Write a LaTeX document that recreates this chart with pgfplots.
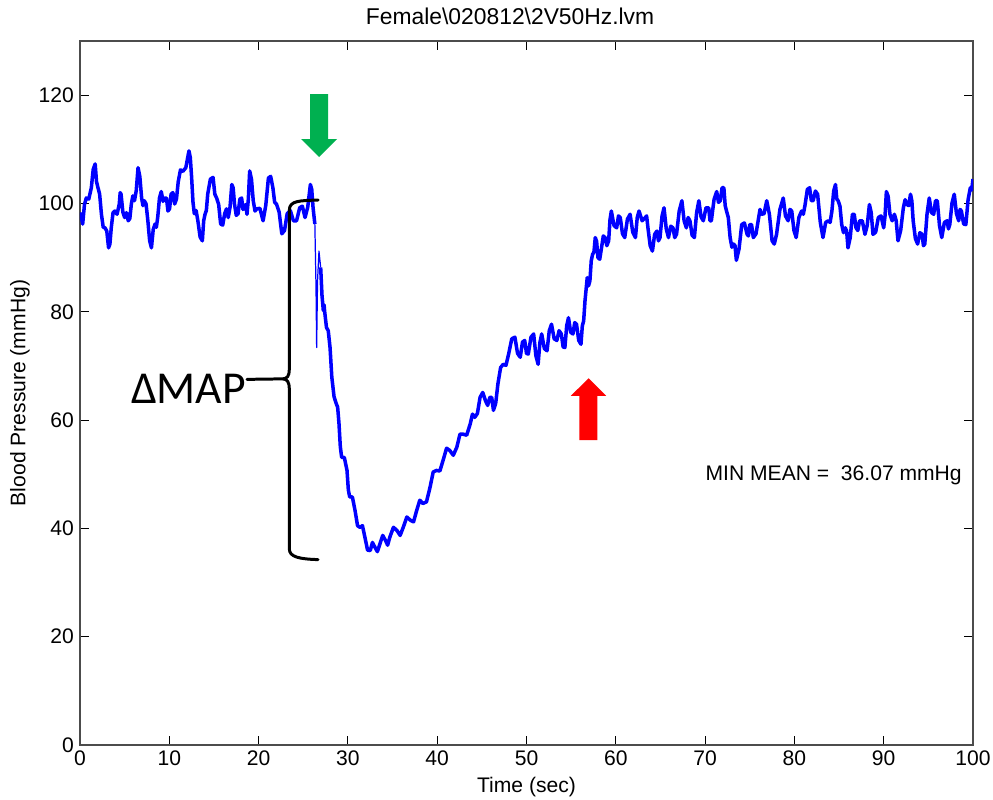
\documentclass[border=0pt]{standalone}
\usepackage{pgfplots}
\pgfplotsset{compat=1.18}
\usepackage{fontspec}
\setmainfont{Liberation Sans}
\newfontfamily\calibri{Carlito}
\definecolor{arrowgreen}{RGB}{0,176,80}
\definecolor{tracecol}{RGB}{0,0,255}

\begin{document}
\begin{tikzpicture}
\useasboundingbox (0,0) rectangle (19.86cm,16cm);
\begin{axis}[
  at={(1.6cm,1.1cm)}, anchor=south west,
  scale only axis, width=17.86cm, height=14.08cm,
  xmin=0, xmax=100, ymin=0, ymax=130,
  xtick={0,10,...,100}, ytick={0,20,...,120},
  tick align=inside, major tick length=0.18cm,
  tick style={black, line width=0.5pt},
  axis line style={line width=0.6pt, black!70},
  ticklabel style={font=\fontsize{12}{14}\selectfont},
  /pgf/number format/assume math mode=true,
  xlabel={Time (sec)}, ylabel={Blood Pressure (mmHg)},
  label style={font=\fontsize{12}{14}\selectfont},
  xlabel style={at={(axis description cs:0.5,-0.0597)}, anchor=center},
  ylabel style={at={(axis description cs:-0.0672,0.5)}, anchor=center},
]
% baseline before stimulation
\addplot[tracecol, line width=2pt, line join=round] coordinates {
(0.0,97) (0.1,98.1) (0.3,96.2) (0.5,99.8) (0.7,101) (0.98,100.8) (1.27,102.9) (1.48,106.3) (1.7,107.3) (1.85,104.0)
(2.0,103) (2.2,101.7) (2.4,98) (2.6,95.6) (2.8,95.5) (3.0,94.9) (3.2,91.8) (3.35,92.5) (3.5,95.5) (3.7,98.3)
(3.9,98.6) (4.15,98.0) (4.4,99.9) (4.5,102.0) (4.6,101.7) (4.8,98.4) (5.0,97.4) (5.2,98.3) (5.4,96.8) (5.58,97.2)
(5.75,99.9) (5.92,101.4) (6.1,100.5) (6.3,102.4) (6.5,106.6) (6.7,105.0) (6.9,101) (7.05,99.6) (7.2,100.5) (7.4,99.9)
(7.6,96.8) (7.8,93.1) (8.0,91.8) (8.2,95.2) (8.4,96.2) (8.55,95.6) (8.7,97.4) (8.9,101.0) (9.1,102.2) (9.3,100.4)
(9.5,101) (9.68,101.0) (9.85,98.6) (10.03,99.0) (10.2,101.7) (10.4,102.0) (10.6,99.9) (10.8,100.8) (11.0,104) (11.25,106.2)
(11.5,105.9) (11.85,106.6) (12.2,109.7) (12.35,108.5) (12.5,104.8) (12.65,100.3) (12.8,98.1) (13.0,98.7) (13.2,96.8) (13.45,93.8)
(13.7,93.1) (13.85,96.8) (14.0,98) (14.15,98.7) (14.3,101.7) (14.6,104.5) (14.9,104.8) (15.1,101.7) (15.3,101) (15.53,99.8)
(15.75,96.2) (15.98,96.0) (16.2,98.1) (16.4,99.0) (16.6,97.4) (16.8,99.3) (17.0,103.5) (17.15,102.9) (17.3,99.9) (17.5,97.8)
(17.7,98.1) (17.9,100.8) (18.1,101) (18.25,98.9) (18.4,99.2) (18.55,99.8) (18.7,98) (18.85,100.8) (19.0,106) (19.2,104.5)
(19.4,100.5) (19.6,98.6) (19.8,99) (20.15,99.1) (20.5,96.8) (20.8,99.6) (21.1,104.7) (21.35,105.0) (21.6,102.9) (21.8,100.2)
(22.0,99.9) (22.3,98.4) (22.6,94.4) (22.9,95.0) (23.2,98.1) (23.55,98.7) (23.9,96.8) (24.25,96.8) (24.6,99.2) (24.9,99.5)
(25.2,97.4) (25.5,99.3) (25.8,103.5) (25.95,102.6) (26.1,99.2) (26.3,96.2)
};
% stimulation artefact
\addplot[tracecol, line width=0.7pt, line join=round] coordinates {
(26.3,96.2) (26.43,84.5) (26.5,73.4) (26.6,85.7) (26.76,91.2) (26.95,88.2)
};
% fall, recovery and post-stimulation
\addplot[tracecol, line width=2pt, line join=round] coordinates {
(26.95,88.2) (27.1,83.0) (27.25,80.2) (27.33,81.3) (27.4,80.0) (27.6,77.1) (27.8,76.5) (28.0,73.4) (28.2,67.9) (28.45,64.3)
(28.7,63) (28.85,62.4) (29.0,59.4) (29.15,55.1) (29.3,53.1) (29.6,53.1) (29.9,50.7) (30.05,47.1) (30.2,45.8) (30.5,45.8)
(30.8,43.3) (31.08,40.5) (31.35,40.2) (31.63,40.5) (31.9,38.4) (32.2,36.0) (32.5,35.9) (32.75,37.4) (33.0,36.6) (33.3,35.7)
(33.6,37.2) (33.9,38.7) (34.2,37.8) (34.45,36.9) (34.7,38.4) (35.1,40.2) (35.5,39.6) (35.85,38.7) (36.2,40.2) (36.6,42.1)
(37.0,41.5) (37.35,41.2) (37.7,43.3) (38.05,45.2) (38.4,44.6) (38.8,44.9) (39.2,47.6) (39.55,50.4) (39.9,50.7) (40.3,50.6)
(40.7,52.8) (41.05,54.8) (41.4,54.4) (41.8,53.5) (42.2,55) (42.55,57.4) (42.9,57.4) (43.3,57.2) (43.7,59.3) (43.95,61.1)
(44.2,60.5) (44.5,61.2) (44.8,64.2) (45.1,65.1) (45.4,63.6) (45.65,62.7) (45.9,64.2) (46.1,64.2) (46.3,61.8) (46.55,63.1)
(46.8,66.7) (47.1,69.7) (47.4,70.3) (47.7,70.1) (48.0,72.2) (48.35,75.0) (48.7,75.3) (49.0,72.3) (49.3,71.6) (49.55,74.4)
(49.8,74.7) (50.0,72.3) (50.2,72.2) (50.5,75.3) (50.8,75.9) (51.05,71.9) (51.3,70.3) (51.5,74.3) (51.7,75.9) (52.0,73.2)
(52.3,72.8) (52.55,76.5) (52.8,77.7) (53.1,75.0) (53.4,74.7) (53.65,76.5) (53.9,75.9) (54.1,73.5) (54.3,73.4) (54.5,77.4)
(54.7,78.9) (54.95,76.2) (55.2,75.9) (55.4,78.0) (55.6,77.7) (55.85,74.7) (56.1,74.0) (56.25,77.4) (56.4,78.3) (56.55,82)
(56.8,86.3) (56.95,84.8) (57.1,85.7) (57.25,89.4) (57.4,90.6) (57.55,91.0) (57.7,93.7) (57.85,93.0) (58.0,90) (58.2,89.7)
(58.4,91.8) (58.6,94.0) (58.8,93.7) (59.0,92.2) (59.2,93.1) (59.35,97.0) (59.5,98.6) (59.8,95.9) (60.1,95.5) (60.3,97.7)
(60.5,97.4) (60.75,94.4) (61.0,93.7) (61.3,97.1) (61.6,98) (61.9,94.7) (62.2,93.7) (62.4,97.4) (62.6,98.6) (62.95,96.8)
(63.3,97.4) (63.45,97.7) (63.6,95.5) (63.85,92.2) (64.1,91.2) (64.35,94.3) (64.6,94.9) (64.78,93.1) (64.95,93.7) (65.18,97.7)
(65.4,99.2) (65.65,95.3) (65.9,93.7) (66.15,95.8) (66.4,95.5) (66.6,93.7) (66.8,94.3) (67.1,98.6) (67.4,100.5) (67.65,96.8)
(67.9,95.5) (68.1,97.4) (68.3,96.8) (68.55,94.1) (68.8,93.7) (69.05,98.3) (69.3,100.5) (69.55,97.5) (69.8,96.8) (70.1,99.2)
(70.4,99.2) (70.55,96.8) (70.7,96.8) (71.0,100.7) (71.3,102.2) (71.5,100.2) (71.7,100.5) (71.9,102.9) (72.1,102.9) (72.25,99.6)
(72.4,98.6) (72.6,97.4) (72.8,93.7) (73.0,91.9) (73.2,92.5) (73.35,92.2) (73.5,89.5) (73.8,91.6) (74.1,96.1) (74.4,96.4)
(74.7,94.3) (74.85,94.0) (75.0,96.1) (75.2,96.1) (75.4,93.7) (75.7,94.4) (76.0,97.4) (76.15,98.9) (76.3,98) (76.6,98.1)
(76.9,100.5) (77.2,98.0) (77.5,93.1) (77.75,92.5) (78.0,94.3) (78.38,98.9) (78.75,101) (79.0,97.7) (79.3,96.8) (79.5,98.9)
(79.7,98.6) (79.95,95.0) (80.2,93.7) (80.5,97.4) (80.8,98.6) (81.0,98.0) (81.2,99.8) (81.45,102.6) (81.7,102.9) (81.9,100.5)
(82.1,100.5) (82.35,102.3) (82.6,101.7) (82.9,96.5) (83.2,93.7) (83.5,96.5) (83.8,96.8) (84.0,96.5) (84.2,98.6) (84.4,102.3)
(84.6,103.5) (84.75,100.8) (84.9,100.5) (85.1,99.5) (85.3,96.1) (85.5,94.6) (85.7,95.5) (85.85,94.9) (86.0,91.8) (86.25,93.7)
(86.5,98) (86.7,98.0) (86.9,95.5) (87.1,95.0) (87.3,96.8) (87.6,96.8) (87.9,94.3) (88.15,95.9) (88.4,99.8) (88.6,98.3)
(88.8,94.3) (89.1,94.7) (89.4,97.4) (89.7,97.7) (90.0,95.5) (90.15,97.7) (90.3,102.2) (90.5,101.3) (90.7,98) (90.95,96.8)
(91.2,98) (91.4,96.8) (91.6,93.1) (91.9,95.0) (92.2,99.2) (92.4,100.7) (92.6,99.8) (92.8,99.6) (93.0,101.7) (93.15,100.5)
(93.3,96.8) (93.55,93.5) (93.8,92.5) (94.05,94.6) (94.3,94.3) (94.45,92.2) (94.6,92.5) (94.85,98.0) (95.1,101) (95.35,98.3)
(95.6,98) (95.8,100.5) (96.0,100.5) (96.25,95.9) (96.5,93.7) (96.8,96.5) (97.1,96.8) (97.25,95.3) (97.4,96.1) (97.65,100.1)
(97.9,101.7) (98.15,98.1) (98.4,96.8) (98.55,98.9) (98.7,98.6) (98.95,96.2) (99.2,96.1) (99.45,100.7) (99.7,102.9) (99.85,102.5)
(100,104.5)
};
\end{axis}

\begin{scope}[shift={(0,16cm)}, x=0.02cm, y=-0.02cm]
  % title
  \node[font=\fontsize{13}{15}\selectfont] at (510,16) {Female\textbackslash 020812\textbackslash 2V50Hz.lvm};
  % green arrow (start of stimulation)
  \fill[arrowgreen] (310,94) -- (328,94) -- (328,139) -- (337,139) -- (319,157) -- (301,139) -- (310,139) -- cycle;
  % red arrow (end of stimulation)
  \fill[red] (579.3,440) -- (597.3,440) -- (597.3,395.7) -- (606,395.7) -- (588.5,378.3) -- (570.7,395.7) -- (579.3,395.7) -- cycle;
  % brace
  \draw[line width=1.7pt, line cap=round, line join=round]
    (318,200) .. controls (300,200.6) and (289.3,200.5) .. (289.3,210) -- (289.3,369)
    .. controls (289.3,376) and (287,378.6) .. (283,378.8) -- (247,379.3);
  \draw[line width=1.7pt, line cap=round, line join=round]
    (283,378.8) .. controls (287,379) and (289.3,382) .. (289.3,389) -- (289.3,549)
    .. controls (289.3,557) and (300,559) .. (318,559.5);
  \node[font=\calibri\fontsize{26}{30}\selectfont, inner sep=0pt] at (188.5,388.5) {ΔMAP};
  \node[font=\fontsize{12}{14}\selectfont, inner sep=0pt] at (833.5,475) {MIN MEAN =\ \ 36.07 mmHg};
\end{scope}
\end{tikzpicture}
\end{document}
